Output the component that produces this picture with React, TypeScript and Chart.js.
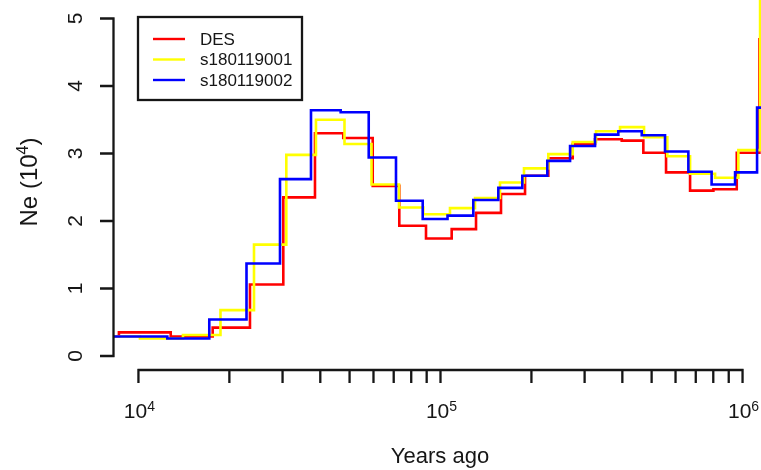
import { useEffect, useRef } from "react";
import { Chart, registerables } from "chart.js";

Chart.register(...registerables);

// ---- data ----
const seriesNames = ["DES", "s180119001", "s180119002"];
const seriesColors = ["#ff0000", "#ffff00", "#0000ff"];

// step edges (years ago) and Ne (x10^4) for each interval
const desYears = [4000, 8617, 12790, 17610, 23400, 30170, 38410, 47650, 59650, 73050, 89540, 108900, 131100, 158600, 190500, 227500, 274000, 324800, 398100, 469400, 558100, 670300, 800700, 956800, 1137000, 2000000];
const desNe = [0.29, 0.35, 0.29, 0.42, 1.06, 2.35, 3.3, 3.23, 2.52, 1.93, 1.74, 1.88, 2.12, 2.4, 2.67, 2.93, 3.14, 3.21, 3.19, 3.01, 2.72, 2.45, 2.47, 3.01, 4.69];

const s001Years = [4000, 10115, 14040, 18690, 24130, 30870, 38700, 48100, 59100, 72880, 87700, 107500, 130100, 157400, 189000, 227500, 274000, 327300, 393000, 471900, 563600, 670300, 811100, 968500, 1143000, 2000000];
const s001Ne = [0.29, 0.26, 0.31, 0.68, 1.65, 2.98, 3.5, 3.14, 2.54, 2.2, 2.1, 2.19, 2.34, 2.57, 2.78, 2.99, 3.17, 3.33, 3.39, 3.24, 2.96, 2.7, 2.64, 3.05, 6.0];

const s002Years = [4000, 12460, 17160, 22790, 29420, 37260, 46720, 57860, 71230, 87320, 105500, 128400, 155400, 186600, 225700, 268500, 324800, 387900, 463700, 553800, 661600, 789900, 944600, 1117000, 2000000];
const s002Ne = [0.29, 0.26, 0.54, 1.37, 2.62, 3.64, 3.61, 2.94, 2.3, 2.03, 2.08, 2.31, 2.49, 2.67, 2.89, 3.11, 3.28, 3.33, 3.27, 3.03, 2.73, 2.54, 2.72, 3.68];

const yTicks = [0, 1, 2, 3, 4, 5];
const xMajorExponents = [4, 5, 6];
const xMinorMultipliers = [2, 3, 4, 5, 6, 7, 8, 9];
const xTitle = "Years ago";
const yTitleParts = ["Ne (10", "4", ")"];

const X_MIN = 8300;
const X_MAX = 1151000;
const Y_MIN = -0.2074;
const Y_MAX = 5.274;

const FONT = '"Liberation Sans", Arial, Helvetica, sans-serif';
const INK = "#161616";

function drawParts(
  ctx: CanvasRenderingContext2D,
  parts: { t: string; size: number; rise: number }[],
  cx: number,
  baseY: number
) {
  let total = 0;
  const widths = parts.map((p) => {
    ctx.font = `${p.size}px ${FONT}`;
    const w = ctx.measureText(p.t).width;
    total += w;
    return w;
  });
  let x = cx - total / 2;
  parts.forEach((p, i) => {
    ctx.font = `${p.size}px ${FONT}`;
    ctx.fillText(p.t, x, baseY - p.rise);
    x += widths[i];
  });
}

const rAxesPlugin = {
  id: "rAxes",
  afterDraw(chart: any) {
    const { ctx, chartArea } = chart;
    const xs = chart.scales.x;
    const ys = chart.scales.y;
    ctx.save();
    ctx.strokeStyle = INK;
    ctx.fillStyle = INK;
    ctx.lineWidth = 2.3;
    ctx.lineCap = "butt";

    // ---- y axis ----
    const axX = chartArea.left - 0.5;
    const yTop = ys.getPixelForValue(yTicks[yTicks.length - 1]);
    const yBot = ys.getPixelForValue(yTicks[0]);
    ctx.beginPath();
    ctx.moveTo(axX, yTop - 1);
    ctx.lineTo(axX, yBot + 1);
    yTicks.forEach((v) => {
      const py = ys.getPixelForValue(v);
      ctx.moveTo(axX - 13.5, py);
      ctx.lineTo(axX + 1, py);
    });
    ctx.stroke();

    ctx.font = `21px ${FONT}`;
    ctx.textAlign = "center";
    ctx.textBaseline = "alphabetic";
    yTicks.forEach((v) => {
      const py = ys.getPixelForValue(v);
      ctx.save();
      ctx.translate(82, py);
      ctx.rotate(-Math.PI / 2);
      ctx.fillText(String(v), 0, 0);
      ctx.restore();
    });

    // ---- x axis ----
    const axY = chartArea.bottom;
    const first = Math.pow(10, xMajorExponents[0]);
    const last = Math.pow(10, xMajorExponents[xMajorExponents.length - 1]);
    const x0 = xs.getPixelForValue(first);
    const x1 = xs.getPixelForValue(last);
    ctx.beginPath();
    ctx.moveTo(x0 - 1, axY);
    ctx.lineTo(x1 + 1, axY);
    const tickVals: number[] = [];
    xMajorExponents.forEach((e, i) => {
      tickVals.push(Math.pow(10, e));
      if (i < xMajorExponents.length - 1) {
        xMinorMultipliers.forEach((m) => tickVals.push(m * Math.pow(10, e)));
      }
    });
    tickVals.forEach((v) => {
      const px = xs.getPixelForValue(v);
      ctx.moveTo(px, axY - 1);
      ctx.lineTo(px, axY + 13);
    });
    ctx.stroke();

    ctx.textAlign = "left";
    xMajorExponents.forEach((e) => {
      const px = xs.getPixelForValue(Math.pow(10, e));
      drawParts(
        ctx,
        [
          { t: "10", size: 21, rise: 0 },
          { t: String(e), size: 14, rise: 7 },
        ],
        px + 1,
        418
      );
    });

    // ---- axis titles ----
    drawParts(ctx, [{ t: xTitle, size: 22, rise: 0 }], (chartArea.left + 766) / 2, 463);

    ctx.save();
    ctx.translate(37, 182);
    ctx.rotate(-Math.PI / 2);
    drawParts(
      ctx,
      [
        { t: yTitleParts[0], size: 24, rise: 0 },
        { t: yTitleParts[1], size: 16, rise: 9 },
        { t: yTitleParts[2], size: 24, rise: 0 },
      ],
      0,
      0
    );
    ctx.restore();

    // ---- legend ----
    const bx = chartArea.left + 24;
    const by = 17;
    ctx.fillStyle = "#ffffff";
    ctx.fillRect(bx, by, 164, 83);
    ctx.strokeStyle = INK;
    ctx.lineWidth = 2.3;
    ctx.strokeRect(bx, by, 164, 83);
    const rows = [39, 59.5, 80];
    chart.data.datasets.forEach((ds: any, i: number) => {
      ctx.strokeStyle = ds.borderColor;
      ctx.lineWidth = 2.4;
      ctx.beginPath();
      ctx.moveTo(bx + 15, rows[i]);
      ctx.lineTo(bx + 47, rows[i]);
      ctx.stroke();
      ctx.fillStyle = INK;
      ctx.font = `17px ${FONT}`;
      ctx.textAlign = "left";
      ctx.textBaseline = "middle";
      ctx.fillText(ds.label, bx + 62, rows[i] + 1);
    });

    ctx.restore();
  },
};

function stepPoints(edges: number[], values: number[]) {
  return edges.map((x, i) => ({ x, y: values[Math.min(i, values.length - 1)] }));
}

export default function App() {
  const ref = useRef<HTMLCanvasElement>(null);

  useEffect(() => {
    const canvas = ref.current;
    if (!canvas) return;
    const sources = [
      [desYears, desNe],
      [s001Years, s001Ne],
      [s002Years, s002Ne],
    ];
    const datasets = sources.map(([edges, vals], i) => ({
      label: seriesNames[i],
      data: stepPoints(edges, vals),
      borderColor: seriesColors[i],
      backgroundColor: seriesColors[i],
      borderWidth: 2.6,
      pointRadius: 0,
      fill: false,
      stepped: "before" as const,
      order: 3 - i,
    }));
    const chart = new Chart(canvas, {
      type: "line",
      data: { datasets },
      options: {
        animation: false,
        responsive: false,
        devicePixelRatio: 1,
        events: [],
        layout: { padding: { left: 114, right: 0, top: 0, bottom: 100 } },
        plugins: { legend: { display: false }, tooltip: { enabled: false } },
        scales: {
          x: { type: "logarithmic", min: X_MIN, max: X_MAX, display: false },
          y: { type: "linear", min: Y_MIN, max: Y_MAX, display: false },
        },
      },
      plugins: [rAxesPlugin],
    });
    return () => chart.destroy();
  }, []);

  return (
    <div style={{ position: "fixed", left: 0, top: 0, width: 761, height: 470, background: "#fff" }}>
      <canvas ref={ref} width={761} height={470} style={{ display: "block", width: 761, height: 470 }} />
    </div>
  );
}
